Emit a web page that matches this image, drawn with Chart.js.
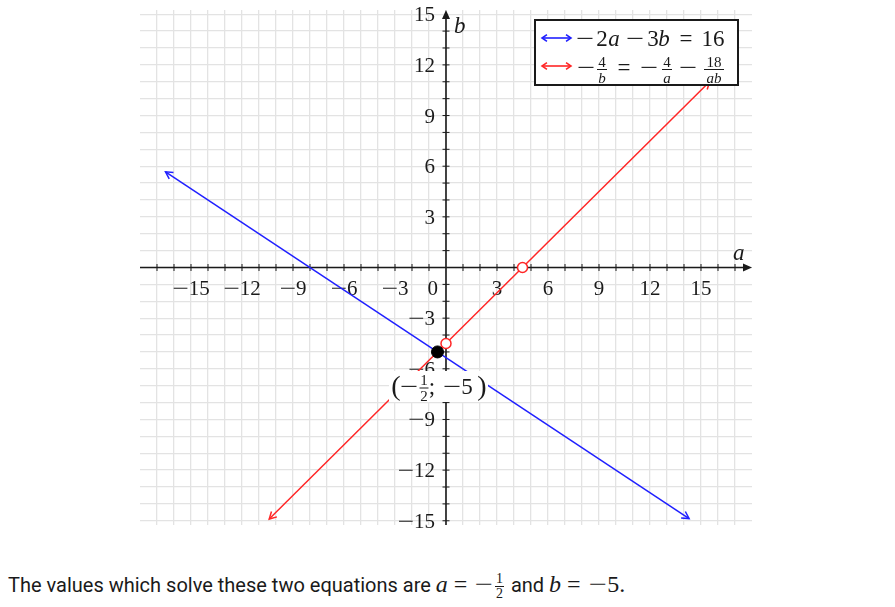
<!DOCTYPE html>
<html>
<head>
<meta charset="utf-8">
<script src="https://cdn.jsdelivr.net/npm/chart.js@4/dist/chart.umd.min.js"></script>
<style>
  body { margin: 0; background: #fff; width: 895px; height: 607px; overflow: hidden; position: relative; }
  #wrap { position: absolute; left: 0; top: 0; width: 895px; height: 545px; }
  #note { position: absolute; left: 8px; top: 571px; font: 20px Roboto, sans-serif; color: #1a1a1a; white-space: nowrap; }
  .m { font-family: 'Liberation Serif', serif; font-size: 24px; }
  .v { font-style: italic; }
  .op { display: inline-block; margin: 0 6px; }
  .mi { display: inline-block; transform: scaleX(1.35); margin: 0 3px 0 4px; }
  .frac { display: inline-block; vertical-align: middle; text-align: center; font-family: 'Liberation Serif', serif; font-size: 14px; line-height: 1.0; margin: 0 2px 0 1px; }
  .frac span { display: block; }
  .frac .num { border-bottom: 1px solid #1a1a1a; padding: 0 1px; }
</style>
</head>
<body>
<div id="wrap"><canvas id="graph" width="895" height="545"></canvas></div>
<div id="note">The values which solve these two equations are <span class="m"><span class="v">a</span><span class="op">=</span><span class="mi">−</span><span class="frac"><span class="num">1</span><span>2</span></span></span> and <span class="m"><span class="v">b</span><span class="op">=</span><span class="mi">−</span>5.</span></div>
<script>
// line 1: -2a - 3b = 16, line 2: b = a - 4.5 (with holes)
const blueA = [-16.5, 14.3];
const blueB = [5.67, -14.87];
const redA = [-10.4, 15.5];
const redB = [-14.9, 11];
const holeA = [0, 4.5];
const holeB = [-4.5, 0];
const solA = [-0.5];
const solB = [-5];
const xTicks = [-15, -12, -9, -6, -3, 3, 6, 9, 12, 15];
const yTicks = [15, 12, 9, 6, 3, -3, -6, -9, -12, -15];

const BLUE = '#2020ff';
const RED = '#ff2626';
const INK = '#1a1a1a';
const GRID = '#e3e3e3';
const SERIF = "'Liberation Serif', serif";
const MINUS_STRETCH = 1.4;

const pts = (xs, ys) => xs.map((x, i) => ({ x: x, y: ys[i] }));
const intRange = (lo, hi) => { const r = []; for (let v = lo; v <= hi; v++) r.push({ value: v }); return r; };
const fmt = v => (v < 0 ? '−' + Math.abs(v) : String(v));

function font(size, italic) {
    return (italic ? 'italic ' : '') + size + 'px ' + SERIF;
}

// TeX minus is much longer than the Times one, so stretch it
function minus(ctx, left, y) {
    ctx.save();
    ctx.translate(left, y);
    ctx.scale(MINUS_STRETCH, 1);
    ctx.textAlign = 'left';
    ctx.fillText('−', 0, 0);
    ctx.restore();
    return ctx.measureText('−').width * MINUS_STRETCH;
}

function numLabel(ctx, s, x, y, align) {
    const neg = s.startsWith('−');
    const body = neg ? s.slice(1) : s;
    const wm = neg ? ctx.measureText('−').width * MINUS_STRETCH : 0;
    const w = wm + ctx.measureText(body).width;
    const left = align === 'right' ? x - w : align === 'center' ? x - w / 2 : x;
    if (neg) minus(ctx, left, y);
    ctx.textAlign = 'left';
    ctx.fillText(body, left + wm, y);
}

function tok(ctx, s, cx, y, size, italic) {
    ctx.font = font(size, italic);
    if (s === '−') {
        minus(ctx, cx - ctx.measureText('−').width * MINUS_STRETCH / 2, y);
        return;
    }
    ctx.textAlign = 'center';
    ctx.fillText(s, cx, y);
}

function frac(ctx, num, den, cx, barY, size, barW, denIt) {
    tok(ctx, num, cx, barY - 3, size, false);
    tok(ctx, den, cx, barY + size - 2, size, denIt);
    ctx.fillRect(cx - barW / 2, barY - 0.5, barW, 1);
}

function vHead(ctx, x, y, ang, len, spread) {
    ctx.beginPath();
    ctx.moveTo(x - len * Math.cos(ang - spread), y - len * Math.sin(ang - spread));
    ctx.lineTo(x, y);
    ctx.lineTo(x - len * Math.cos(ang + spread), y - len * Math.sin(ang + spread));
    ctx.stroke();
}

const axesPlugin = {
    id: 'axesPlugin',
    beforeDatasetsDraw(chart) {
        const ctx = chart.ctx;
        const xs = chart.scales.x, ys = chart.scales.y;
        const area = chart.chartArea;
        const x0 = xs.getPixelForValue(0), y0 = ys.getPixelForValue(0);
        ctx.save();
        ctx.strokeStyle = INK;
        ctx.fillStyle = INK;
        ctx.lineWidth = 1.6;
        // axis lines
        ctx.beginPath();
        ctx.moveTo(area.left, y0); ctx.lineTo(area.right - 4, y0);
        ctx.moveTo(x0, area.bottom); ctx.lineTo(x0, area.top + 4);
        ctx.stroke();
        // arrow tips
        ctx.beginPath();
        ctx.moveTo(area.right, y0); ctx.lineTo(area.right - 9, y0 - 4); ctx.lineTo(area.right - 9, y0 + 4); ctx.closePath();
        ctx.moveTo(x0, area.top); ctx.lineTo(x0 - 4, area.top + 9); ctx.lineTo(x0 + 4, area.top + 9); ctx.closePath();
        ctx.fill();
        // tick marks
        ctx.lineWidth = 1;
        ctx.beginPath();
        for (let v = -17; v <= 17; v++) {
            if (v === 0) continue;
            const px = xs.getPixelForValue(v);
            ctx.moveTo(px, y0 - 3.5); ctx.lineTo(px, y0 + 3.5);
        }
        for (let v = -15; v <= 14; v++) {
            if (v === 0) continue;
            const py = ys.getPixelForValue(v);
            ctx.moveTo(x0 - 3.5, py); ctx.lineTo(x0 + 3.5, py);
        }
        ctx.stroke();
        // tick labels
        ctx.font = font(21);
        ctx.textBaseline = 'alphabetic';
        xTicks.forEach(v => numLabel(ctx, fmt(v), xs.getPixelForValue(v), y0 + 27, 'center'));
        numLabel(ctx, '0', x0 - 8, y0 + 27, 'right');
        yTicks.forEach(v => numLabel(ctx, fmt(v), x0 - 11, ys.getPixelForValue(v) + 7, 'right'));
        // axis names
        ctx.font = font(23, true);
        ctx.textAlign = 'left';
        ctx.fillText('b', x0 + 8, area.top + 23);
        ctx.fillText('a', area.right - 19, y0 - 8);
        ctx.restore();
    },
    afterDatasetsDraw(chart) {
        const ctx = chart.ctx;
        ctx.save();
        ctx.lineWidth = 1.5;
        chart.data.datasets.forEach((ds, i) => {
            if (!ds.arrows) return;
            const el = chart.getDatasetMeta(i).data;
            const p = el[0], q = el[el.length - 1];
            const ang = Math.atan2(q.y - p.y, q.x - p.x);
            ctx.strokeStyle = ds.borderColor;
            vHead(ctx, q.x, q.y, ang, 8, 0.5);
            vHead(ctx, p.x, p.y, ang + Math.PI, 8, 0.5);
        });
        ctx.restore();
    }
};

const overlayPlugin = {
    id: 'overlayPlugin',
    afterDraw(chart) {
        const ctx = chart.ctx;
        ctx.save();
        ctx.textBaseline = 'alphabetic';
        // solution label
        ctx.fillStyle = '#fff';
        ctx.fillRect(389, 371, 99, 31);
        ctx.fillStyle = INK;
        tok(ctx, '(', 396, 395, 28);
        tok(ctx, '−', 409, 394, 23);
        frac(ctx, '1', '2', 424, 388, 15, 9, false);
        tok(ctx, ';', 432, 394, 23);
        tok(ctx, '−', 452, 394, 23);
        tok(ctx, '5', 467, 394, 23);
        tok(ctx, ')', 482, 395, 28);

        // legend box
        ctx.fillStyle = '#fff';
        ctx.fillRect(535, 20, 203, 65);
        ctx.strokeStyle = INK;
        ctx.lineWidth = 2;
        ctx.strokeRect(535, 20, 203, 65);
        [[BLUE, 38], [RED, 66]].forEach(([c, y]) => {
            ctx.strokeStyle = c;
            ctx.lineWidth = 1.6;
            ctx.beginPath(); ctx.moveTo(542, y); ctx.lineTo(571, y); ctx.stroke();
            vHead(ctx, 571, y, 0, 6, 0.6);
            vHead(ctx, 542, y, Math.PI, 6, 0.6);
        });
        ctx.fillStyle = INK;
        // −2a − 3b = 16
        tok(ctx, '−', 585, 46, 23);
        tok(ctx, '2', 602, 46, 23);
        tok(ctx, 'a', 614, 46, 23, true);
        tok(ctx, '−', 635, 46, 23);
        tok(ctx, '3', 653, 46, 23);
        tok(ctx, 'b', 664, 46, 23, true);
        tok(ctx, '=', 686, 46, 23);
        tok(ctx, '16', 713, 46, 23);
        // −4/b = −4/a − 18/ab
        tok(ctx, '−', 586, 75, 23);
        frac(ctx, '4', 'b', 602, 69.5, 15, 10, true);
        tok(ctx, '=', 624, 75, 23);
        tok(ctx, '−', 649, 75, 23);
        frac(ctx, '4', 'a', 667, 69.5, 15, 10, true);
        tok(ctx, '−', 688, 75, 23);
        frac(ctx, '18', 'ab', 714, 69.5, 15, 20, true);
        ctx.restore();
    }
};

new Chart(document.getElementById('graph'), {
    type: 'scatter',
    data: {
        datasets: [
            { label: 'solution', data: pts(solA, solB), pointRadius: 6, pointBackgroundColor: '#000', pointBorderColor: '#000', order: 0 },
            { label: 'holes', data: pts(holeA, holeB), pointRadius: 5, pointBackgroundColor: '#fff', pointBorderColor: RED, pointBorderWidth: 1.5, order: 1 },
            { label: '−2a − 3b = 16', data: pts(blueA, blueB), showLine: true, borderColor: BLUE, borderWidth: 1.5, pointRadius: 0, arrows: true, order: 2 },
            { label: '−4/b = −4/a − 18/ab', data: pts(redA, redB), showLine: true, borderColor: RED, borderWidth: 1.5, pointRadius: 0, arrows: true, order: 3 }
        ]
    },
    options: {
        responsive: false,
        animation: false,
        events: [],
        layout: { padding: { left: 140, right: 143, top: 10, bottom: 20 } },
        plugins: { legend: { display: false }, tooltip: { enabled: false } },
        scales: {
            x: {
                type: 'linear', min: -18, max: 18,
                afterBuildTicks: s => { s.ticks = intRange(-17, 17); },
                ticks: { display: false },
                grid: { color: GRID, lineWidth: 1.3, drawTicks: false },
                border: { display: false }
            },
            y: {
                type: 'linear', min: -15.25, max: 15.25,
                afterBuildTicks: s => { s.ticks = intRange(-15, 15); },
                ticks: { display: false },
                grid: { color: GRID, lineWidth: 1.3, drawTicks: false },
                border: { display: false }
            }
        }
    },
    plugins: [axesPlugin, overlayPlugin]
});
</script>
</body>
</html>
